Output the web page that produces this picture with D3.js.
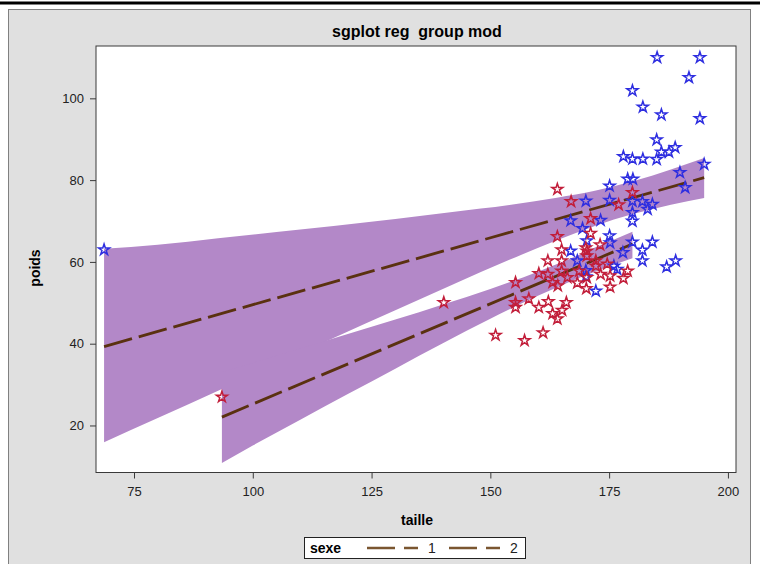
<!DOCTYPE html>
<html><head><meta charset="utf-8">
<script src="https://cdn.jsdelivr.net/npm/d3@7"></script>
<style>
html,body{margin:0;padding:0;background:#fff;}
svg{display:block;font-family:"Liberation Sans",Arial,sans-serif;}
</style></head>
<body><svg id="c" width="760" height="564"></svg>
<script>
// ---------- data ----------
const title = "sgplot reg  group mod";
const xTicks = [75, 100, 125, 150, 175, 200];
const yTicks = [20, 40, 60, 80, 100];
const groups = ["1", "2"];

// group 1 (blue) observations
const taille1 = [68.7,185.1,194.1,191.8,179.9,182.1,186.0,194.1,185.0,188.9,187.6,186.0,178.0,179.9,182.1,185.0,195.0,189.9,178.9,180.0,175.1,191.0,170.1,175.1,179.9,182.0,184.1,183.1,179.9,179.9,173.2,166.9,169.4,175.1,170.3,175.2,179.9,184.1,182.0,177.9,166.9,168.3,182.0,189.0,187.1,176.0,176.7,170.1,170.1,172.2];
const poids1  = [63.1,110.1,110.1,105.2,102.0,98.0,96.1,95.2,90.0,88.1,87.0,87.0,85.9,85.3,85.3,85.2,84.0,82.0,80.4,80.4,78.7,78.3,75.0,75.2,75.0,74.9,74.2,73.0,72.2,70.1,70.3,70.2,68.3,66.5,65.3,64.8,65.0,65.0,63.0,62.4,62.8,60.4,60.4,60.4,58.9,59.1,58.3,58.0,56.5,53.0];
// group 2 (red) observations
const taille2 = [93.5,140.2,151.1,157.2,161.1,155.3,155.3,155.3,158.1,160.2,162.2,163.1,164.1,165.1,166.0,160.2,162.1,162.1,164.1,164.1,167.0,165.0,165.0,165.0,166.2,163.1,164.2,168.3,170.2,170.3,170.3,170.3,171.1,171.1,173.1,172.2,172.2,173.2,174.6,175.2,175.2,177.0,178.0,178.9,179.9,170.1,168.7];
const poids2  = [27.1,50.2,42.2,40.9,42.8,55.1,50.2,49.0,51.1,49.0,50.4,47.5,46.2,48.3,50.2,57.3,57.1,60.4,66.3,77.9,74.9,63.1,60.4,57.9,56.3,55.1,54.3,55.0,53.6,56.3,61.6,62.8,67.1,70.7,64.3,60.4,59.1,57.1,59.6,56.7,54.0,74.1,56.1,57.9,77.1,63.6,57.9];

// regression fit lines
const fit1X = [68.7, 195.0], fit1Y = [39.3, 80.6];
const fit2X = [93.5, 179.9], fit2Y = [22.05, 64.4];
// confidence bands
const band1X  = [68.7, 80, 92.7, 105, 117, 130, 142, 154, 164, 172, 180, 188, 195];
const band1Lo = [15.9, 21.8, 28.5, 35.0, 41.4, 48.2, 54.4, 60.5, 65.3, 68.8, 71.7, 74.0, 75.6];
const band1Hi = [63.2, 64.2, 65.8, 67.3, 68.8, 70.5, 72.2, 73.9, 75.7, 77.4, 79.7, 82.6, 85.4];
const band2X  = [93.5, 100, 110, 120, 130, 140, 150, 160, 166, 172, 179.9];
const band2Lo = [10.8, 15.1, 21.4, 27.7, 33.9, 40.1, 46.1, 51.7, 54.8, 57.6, 60.9];
const band2Hi = [33.1, 35.3, 38.8, 42.4, 45.9, 49.6, 53.4, 57.6, 60.4, 63.5, 67.4];

// ---------- layout ----------
const svg = d3.select("#c");
const L = 96, R = 736, T = 46, B = 472.5;
const x = d3.scaleLinear().domain([67.0, 201.7]).range([L, R]);
const y = d3.scaleLinear().domain([8.5, 112.8]).range([B, T]);
const lineCol = "#5a3110", bandCol = "#b388c8";
const col = {"1": "#2e2ee0", "2": "#c21e3a"};

svg.append("rect").attr("x",0).attr("y",1.5).attr("width",760).attr("height",3).attr("fill","#000");
svg.append("rect").attr("x",8.5).attr("y",9.5).attr("width",742).attr("height",570)
  .attr("fill","#e0e0e0").attr("stroke","#808080");
svg.append("rect").attr("x",L).attr("y",T).attr("width",R-L).attr("height",B-T).attr("fill","#fff");

svg.append("text").attr("x",(L+R)/2+1).attr("y",37).attr("text-anchor","middle")
  .attr("font-size",16).attr("font-weight","bold").style("white-space","pre").text(title);

const g = svg.append("g");
// bands
const area = d3.area().x(d=>x(d[0])).y0(d=>y(d[1])).y1(d=>y(d[2])).curve(d3.curveMonotoneX);
g.append("path").datum(band1X.map((v,i)=>[v,band1Lo[i],band1Hi[i]])).attr("d",area).attr("fill",bandCol);
g.append("path").datum(band2X.map((v,i)=>[v,band2Lo[i],band2Hi[i]])).attr("d",area).attr("fill",bandCol);

// fit lines
const ln = d3.line().x(d=>x(d[0])).y(d=>y(d[1]));
[[fit1X,fit1Y],[fit2X,fit2Y]].forEach(([xs,ys])=>{
  g.append("path").datum(xs.map((v,i)=>[v,ys[i]])).attr("d",ln)
   .attr("fill","none").attr("stroke",lineCol).attr("stroke-width",2.8).attr("stroke-dasharray","29,7");
});

// stars
const star = d3.symbol().type(d3.symbolStar).size(38);
function pts(tx, py, c){
  g.selectAll(null).data(tx.map((v,i)=>[v,py[i]])).join("path")
   .attr("d",star).attr("transform",d=>`translate(${x(d[0])},${y(d[1])+0.5})`)
   .attr("fill","none").attr("stroke",c).attr("stroke-width",1.5).attr("stroke-linejoin","miter");
}
pts(taille1, poids1, col["1"]);
pts(taille2, poids2, col["2"]);

// frame
svg.append("rect").attr("x",L).attr("y",T).attr("width",R-L).attr("height",B-T)
  .attr("fill","none").attr("stroke","#3a3a3a").attr("stroke-width",1);

// axes
const xa = svg.append("g").attr("transform",`translate(0,${B})`)
  .call(d3.axisBottom(x).tickValues(xTicks).tickSize(6).tickPadding(8).tickFormat(d3.format("d")));
const ya = svg.append("g").attr("transform",`translate(${L},0)`)
  .call(d3.axisLeft(y).tickValues(yTicks).tickSize(6).tickPadding(6).tickFormat(d3.format("d")));
[xa,ya].forEach(a=>{
  a.select(".domain").remove();
  a.selectAll("line").attr("stroke","#3a3a3a");
  a.selectAll("text").attr("font-size",13).attr("fill","#222").attr("font-family","Liberation Sans, Arial, sans-serif");
});
svg.append("text").attr("x",(L+R)/2+1).attr("y",525).attr("text-anchor","middle")
  .attr("font-size",14).attr("font-weight","bold").text("taille");
svg.append("text").attr("transform","translate(40,268) rotate(-90)").attr("text-anchor","middle")
  .attr("font-size",14).attr("font-weight","bold").text("poids");

// legend
const lg = svg.append("g");
lg.append("rect").attr("x",304.5).attr("y",537.5).attr("width",221).attr("height",21)
  .attr("fill","#fff").attr("stroke","#222");
lg.append("text").attr("x",310).attr("y",553).attr("font-size",14).attr("font-weight","bold").text("sexe");
const lx = [367, 449];
groups.forEach((gname,i)=>{
  lg.append("line").attr("x1",lx[i]).attr("x2",lx[i]+51).attr("y1",548).attr("y2",548)
    .attr("stroke","#7a5630").attr("stroke-width",2.5).attr("stroke-dasharray","28,9");
  lg.append("text").attr("x",lx[i]+61).attr("y",553).attr("font-size",14).attr("fill","#222").text(gname);
});
</script></body></html>
